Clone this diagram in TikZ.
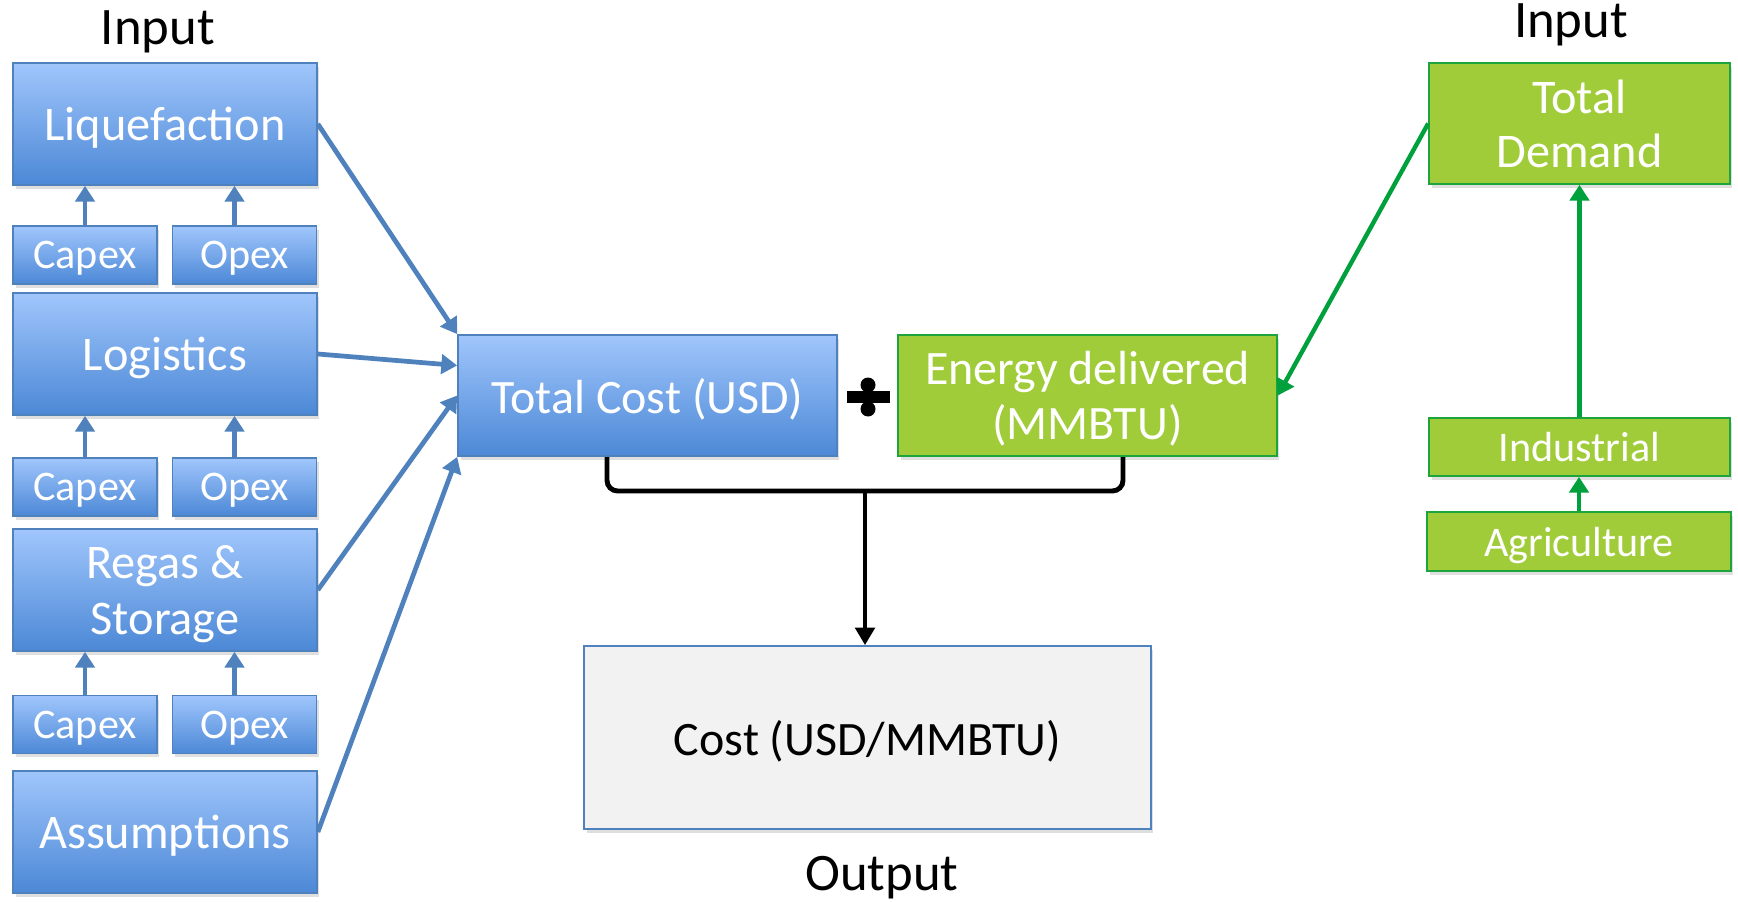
\documentclass[tikz,border=0pt]{standalone}
\usepackage{fontspec}
\setmainfont{Carlito}
\usepackage{xcolor}
\definecolor{bluetop}{RGB}{160,198,252}
\definecolor{bluebot}{RGB}{76,136,214}
\definecolor{blueedge}{RGB}{79,129,189}
\definecolor{greenfill}{RGB}{160,204,58}
\definecolor{greenedge}{RGB}{30,164,60}
\definecolor{greenarr}{RGB}{0,160,60}
\definecolor{outfill}{RGB}{242,242,242}
\usepackage{tikz}
\usetikzlibrary{positioning,arrows.meta,calc,shadows}

\begin{document}
\begin{tikzpicture}[x=0.02cm,y=-0.02cm,
      shade/.style={drop shadow={opacity=0.25,shadow xshift=0.05cm,shadow yshift=-0.08cm}},
      box/.style={draw=blueedge,line width=1pt,top color=bluetop,bottom color=bluebot,text=white,inner sep=0pt,align=center,text depth=0pt,shade},
      big/.style={box,minimum width=6.08cm,minimum height=2.44cm,font=\fontsize{27.5}{31.5}\selectfont},
      small/.style={box,minimum width=2.88cm,minimum height=1.16cm,font=\fontsize{24}{28}\selectfont},
      total/.style={box,minimum width=7.58cm,minimum height=2.42cm,font=\fontsize{27.3}{31.5}\selectfont},
      gbox/.style={draw=greenedge,line width=1pt,fill=greenfill,text=white,inner sep=0pt,align=center,text depth=0pt,shade,minimum width=6.02cm},
      title/.style={font=\fontsize{30}{36}\selectfont,anchor=base,inner sep=0pt},
      arr/.style={-{Triangle[length=9pt,width=11pt]},line width=2.7pt,blueedge},
      garr/.style={-{Triangle[length=9pt,width=11pt]},line width=2.5pt,greenarr}]
    \useasboundingbox (0,0) rectangle (1738,902);
    % cost side
    \node[title] (inL) at (158,45) {Input};
    \node[big] (liq) at (165,124) {Liquefaction};
    \node[small] (c1) at (85,255) {Capex};
    \node[small] (o1) at (244.5,255) {Opex};
    \node[big] (log) at (165,354) {Logistics};
    \node[small] (c2) at (85,487) {Capex};
    \node[small] (o2) at (244.5,487) {Opex};
    \node[big] (reg) at (165,590) {Regas \&\\Storage};
    \node[small] (c3) at (85,724.5) {Capex};
    \node[small] (o3) at (244.5,724.5) {Opex};
    \node[big] (asm) at (165,832) {Assumptions};
    \node[total] (tc) at (647.5,395.5) {Total Cost (USD)};
    % demand side
    \node[gbox,minimum width=7.58cm,minimum height=2.42cm,font=\fontsize{27.3}{31.5}\selectfont] (en) at (1087.5,395.5) {Energy delivered\\(MMBTU)};
    \node[title] (inR) at (1571,38) {Input};
    \node[gbox,minimum height=2.42cm,font=\fontsize{27.5}{31}\selectfont] (td) at (1579.5,123.5) {Total\\Demand};
    \node[gbox,minimum height=1.16cm,font=\fontsize{24}{28}\selectfont] (ind) at (1579.5,447) {Industrial};
    \node[gbox,minimum width=6.08cm,minimum height=1.18cm,font=\fontsize{24}{28}\selectfont] (agr) at (1579,541.5) {Agriculture};
    % result
    \node[draw=blueedge,line width=1pt,fill=outfill,shade,text depth=0pt,minimum width=11.34cm,minimum height=3.66cm,font=\fontsize{27.3}{32}\selectfont] (out) at (867.5,737.5) {Cost (USD/MMBTU)};
    \node[title] (outL) at (882,890) {Output};
    % division sign
    \fill (847,391) rectangle (890,403);
    \fill (868,385) circle (7.5);
    \fill (868,409) circle (7.5);
    % capex / opex feed the blocks above
    \foreach \c/\o/\b in {c1/o1/liq,c2/o2/log,c3/o3/reg} {
      \draw[arr] (\c.north) -- (\c.north |- \b.south);
      \draw[arr] ([xshift=-0.2cm]\o.north) -- ([xshift=-0.2cm]\o.north |- \b.south);
    }
    % blocks into total cost
    \draw[arr] (liq.east) -- (tc.north west);
    \draw[arr] (log.east) -- ($(tc.west)+(0,-30)$);
    \draw[arr] (reg.east) -- (tc.west);
    \draw[arr] (asm.east) -- (tc.south west);
    % demand chain
    \draw[garr] (agr.north) -- (agr.north |- ind.south);
    \draw[garr] (ind.north) -- (td.south);
    \draw[garr] (td.west) -- (en.east);
    % bracket and result
    \coordinate (bl) at (607,457);
    \coordinate (br) at (1123,457);
    \coordinate (bm) at (865,491);
    \draw[line width=2.8pt,rounded corners=6pt] (bl) |- (bm) -| (br);
    \draw[-{Triangle[length=10pt,width=11pt]},line width=2.6pt] (bm) -- (bm |- out.north);
  \end{tikzpicture}
\end{document}
